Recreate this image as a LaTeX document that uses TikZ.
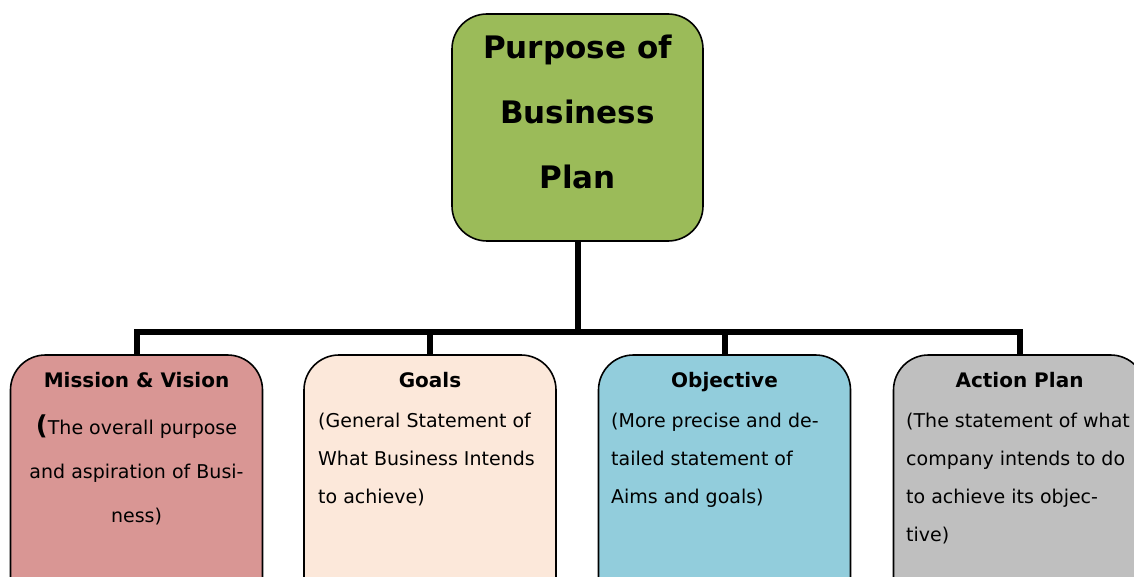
\documentclass[tikz,border=0pt]{standalone}
\usepackage{fontspec}
\setmainfont{DejaVu Sans}

\definecolor{purposegreen}{HTML}{9BBB59}
\definecolor{missionred}{HTML}{D99694}
\definecolor{goalpeach}{HTML}{FCE8DA}
\definecolor{objblue}{HTML}{92CDDC}
\definecolor{actiongray}{HTML}{BFBFBF}

\tikzset{
  plan/.style={draw=black,line width=1.6pt,rounded corners=35pt,minimum width=252pt,minimum height=266pt,inner sep=0pt},
  head/.style={anchor=base,inner sep=0pt,font=\fontsize{20}{24}\selectfont\bfseries},
  body/.style={anchor=north west,align=left,inner sep=0pt,font=\fontsize{19}{38}\selectfont},
  link/.style={line width=6pt}
}

\begin{document}
\begin{tikzpicture}[x=1pt,y=-1pt]
\useasboundingbox (0,0) rectangle (1134,577);
\clip (0,0) rectangle (1134,577);

\node[plan,fill=purposegreen,minimum width=251pt,minimum height=227pt] (purpose) at (577.5,127.5) {};
\node[plan,fill=missionred] (mission) at (136.5,488) {};
\node[plan,fill=goalpeach] (goals) at (430,488) {};
\node[plan,fill=objblue] (objective) at (724.5,488) {};
\node[plan,fill=actiongray] (action) at (1019.5,488) {};

\node[anchor=north,align=center,inner sep=0pt,font=\fontsize{31}{65}\selectfont\bfseries] (title) at (577.5,35) {Purpose of\\Business\\Plan};

\coordinate (bus) at (577.5,332);
\draw[link] (purpose.south) -- (bus);
\draw[link] (mission.north) |- (bus);
\draw[link] (goals.north) |- (bus);
\draw[link] (objective.north) |- (bus);
\draw[link] (action.north) |- (bus);

\node[head] (missionhead) at (136.5,387) {Mission \& Vision};
\node[head] (goalshead) at (430,387) {Goals};
\node[head] (objhead) at (724.5,387) {Objective};
\node[head] (actionhead) at (1019.5,387) {Action Plan};

\node[anchor=north,align=center,inner sep=0pt,font=\fontsize{19}{44}\selectfont] (missiontext) at (136.5,415) {{\fontsize{26}{44}\selectfont\bfseries(}The overall purpose\\and aspiration of Busi-\\ness)};
\node[body] (goalstext) at (318,412.6) {(General Statement of\\What Business Intends\\to achieve)};
\node[body] (objtext) at (611,412.6) {(More precise and de-\\tailed statement of\\Aims and goals)};
\node[body] (actiontext) at (906,412.6) {(The statement of what\\company intends to do\\to achieve its objec-\\tive)};
\end{tikzpicture}
\end{document}
